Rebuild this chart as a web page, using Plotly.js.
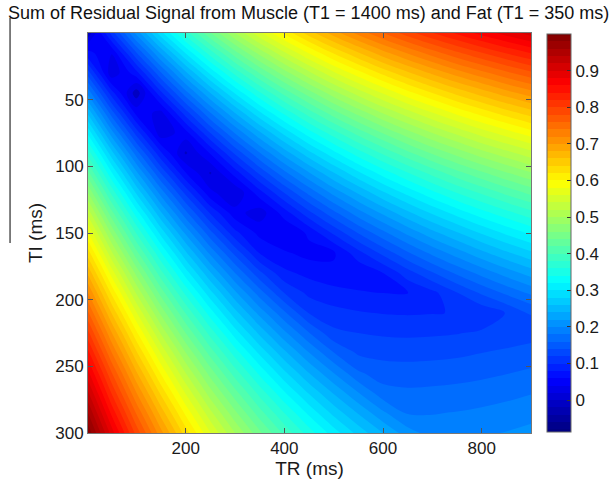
<!DOCTYPE html>
<html>
<head>
<meta charset="utf-8">
<script src="https://cdn.plot.ly/plotly-3.0.1.min.js"></script>
<style>
  html, body { margin: 0; padding: 0; background: #fff; }
  #chart { width: 616px; height: 488px; }
</style>
</head>
<body>
<div id="chart"></div>
<script>
// Repetition time TR (ms) – x grid
const trValues = [0, 50, 100, 150, 200, 250, 300, 350, 400, 450, 500, 550, 600, 650, 700, 750, 800, 850, 900];
// Inversion time TI (ms) – y grid
const tiValues = [0, 15, 30, 45, 60, 75, 90, 105, 120, 135, 150, 165, 180, 195, 210, 225, 240, 255, 270, 285, 300];
// Normalised sum of residual signal, one row per TI value (columns follow trValues)
const residual = [
  [0.000, 0.109, 0.207, 0.293, 0.370, 0.439, 0.500, 0.555, 0.605, 0.650, 0.690, 0.727, 0.760, 0.791, 0.819, 0.844, 0.868, 0.889, 0.909],
  [0.068, 0.041, 0.138, 0.224, 0.301, 0.370, 0.432, 0.487, 0.536, 0.581, 0.622, 0.658, 0.692, 0.722, 0.750, 0.776, 0.799, 0.821, 0.841],
  [0.134, 0.025, 0.072, 0.158, 0.235, 0.304, 0.366, 0.421, 0.470, 0.515, 0.556, 0.592, 0.626, 0.656, 0.684, 0.710, 0.733, 0.755, 0.775],
  [0.198, 0.089, 0.008, 0.095, 0.172, 0.240, 0.302, 0.357, 0.407, 0.451, 0.492, 0.529, 0.562, 0.593, 0.620, 0.646, 0.669, 0.691, 0.711],
  [0.260, 0.150, 0.053, 0.033, 0.110, 0.179, 0.240, 0.296, 0.345, 0.390, 0.431, 0.467, 0.501, 0.531, 0.559, 0.585, 0.608, 0.630, 0.650],
  [0.319, 0.209, 0.112, 0.026, 0.051, 0.120, 0.181, 0.236, 0.286, 0.331, 0.371, 0.408, 0.441, 0.472, 0.500, 0.525, 0.549, 0.570, 0.591],
  [0.376, 0.267, 0.170, 0.083, 0.017, 0.062, 0.124, 0.179, 0.229, 0.274, 0.314, 0.351, 0.384, 0.415, 0.443, 0.468, 0.492, 0.513, 0.533],
  [0.431, 0.322, 0.225, 0.138, 0.061, 0.018, 0.069, 0.124, 0.174, 0.218, 0.259, 0.296, 0.329, 0.359, 0.387, 0.413, 0.436, 0.458, 0.478],
  [0.485, 0.375, 0.278, 0.192, 0.115, 0.046, 0.022, 0.071, 0.120, 0.165, 0.206, 0.242, 0.276, 0.306, 0.334, 0.360, 0.383, 0.405, 0.425],
  [0.536, 0.427, 0.330, 0.243, 0.166, 0.098, 0.048, 0.029, 0.069, 0.114, 0.154, 0.191, 0.224, 0.255, 0.283, 0.308, 0.332, 0.353, 0.373],
  [0.586, 0.476, 0.379, 0.293, 0.216, 0.147, 0.086, 0.054, 0.040, 0.064, 0.104, 0.141, 0.174, 0.205, 0.233, 0.258, 0.282, 0.304, 0.324],
  [0.634, 0.524, 0.427, 0.341, 0.264, 0.195, 0.134, 0.079, 0.063, 0.053, 0.056, 0.093, 0.126, 0.157, 0.185, 0.210, 0.234, 0.256, 0.276],
  [0.680, 0.571, 0.474, 0.387, 0.310, 0.242, 0.180, 0.125, 0.085, 0.074, 0.067, 0.062, 0.080, 0.111, 0.138, 0.164, 0.187, 0.209, 0.229],
  [0.725, 0.616, 0.518, 0.432, 0.355, 0.287, 0.225, 0.170, 0.120, 0.095, 0.087, 0.083, 0.080, 0.079, 0.094, 0.119, 0.143, 0.164, 0.184],
  [0.768, 0.659, 0.562, 0.475, 0.399, 0.330, 0.268, 0.213, 0.164, 0.119, 0.107, 0.102, 0.099, 0.098, 0.099, 0.101, 0.105, 0.121, 0.141],
  [0.810, 0.701, 0.604, 0.517, 0.440, 0.372, 0.310, 0.255, 0.205, 0.161, 0.125, 0.120, 0.117, 0.116, 0.117, 0.119, 0.123, 0.127, 0.132],
  [0.851, 0.741, 0.644, 0.558, 0.481, 0.412, 0.351, 0.296, 0.246, 0.201, 0.161, 0.137, 0.134, 0.133, 0.134, 0.136, 0.140, 0.144, 0.148],
  [0.890, 0.781, 0.683, 0.597, 0.520, 0.451, 0.390, 0.335, 0.285, 0.240, 0.200, 0.163, 0.150, 0.149, 0.150, 0.152, 0.155, 0.159, 0.164],
  [0.928, 0.818, 0.721, 0.635, 0.558, 0.489, 0.428, 0.373, 0.323, 0.278, 0.238, 0.201, 0.168, 0.164, 0.165, 0.167, 0.170, 0.174, 0.179],
  [0.965, 0.855, 0.758, 0.672, 0.595, 0.526, 0.465, 0.409, 0.360, 0.315, 0.274, 0.238, 0.204, 0.178, 0.179, 0.181, 0.184, 0.188, 0.193],
  [1.000, 0.891, 0.793, 0.707, 0.630, 0.561, 0.500, 0.445, 0.395, 0.350, 0.310, 0.273, 0.240, 0.209, 0.191, 0.194, 0.197, 0.201, 0.206]
];
const xTickVals = [200, 400, 600, 800];
const yTickVals = [50, 100, 150, 200, 250, 300];
const cbTickVals = [0, 0.1, 0.2, 0.3, 0.4, 0.5, 0.6, 0.7, 0.8, 0.9];

const jet = [
  [0.000, 'rgb(0,0,131)'],
  [0.125, 'rgb(0,0,255)'],
  [0.375, 'rgb(0,255,255)'],
  [0.625, 'rgb(255,255,0)'],
  [0.875, 'rgb(255,0,0)'],
  [1.000, 'rgb(128,0,0)']
];

const FONT = 'Liberation Sans, Arial, sans-serif';

const trace = {
  type: 'contour',
  x: trValues,
  y: tiValues,
  z: residual,
  colorscale: jet,
  zmin: -0.087,
  zmax: 1.0,
  autocontour: false,
  contours: { start: -0.08, end: 1.0, size: 0.02, coloring: 'fill', showlines: false },
  line: { width: 0, smoothing: 1 },
  hoverinfo: 'x+y+z',
  colorbar: {
    x: 1.0356, xanchor: 'left', xpad: 0,
    y: 0.5, yanchor: 'middle', len: 0.995, ypad: 0,
    thickness: 24,
    outlinecolor: '#666', outlinewidth: 1,
    tickmode: 'array', tickvals: cbTickVals,
    ticks: 'inside', ticklen: 4, tickcolor: '#333',
    tickfont: { family: FONT, size: 17, color: '#1a1a1a' }
  }
};

const layout = {
  width: 616, height: 488,
  margin: { l: 88, r: 79, t: 33, b: 55 },
  paper_bgcolor: '#fff', plot_bgcolor: '#fff',
  font: { family: FONT, size: 17, color: '#1a1a1a' },
  title: {
    text: 'Sum of Residual Signal from Muscle (T1 = 1400 ms) and Fat (T1 = 350 ms)',
    font: { family: FONT, size: 18, color: '#111' },
    xref: 'container', x: 0.501, xanchor: 'center',
    yref: 'container', y: 0.974, yanchor: 'middle'
  },
  xaxis: {
    range: [2, 900],
    tickmode: 'array', tickvals: xTickVals,
    ticks: 'inside', ticklen: 5, tickcolor: '#555',
    showline: true, linecolor: '#777', linewidth: 1, mirror: 'ticks',
    showgrid: false, zeroline: false,
    tickfont: { family: FONT, size: 17, color: '#1a1a1a' },
    title: { text: 'TR (ms)', font: { family: FONT, size: 19, color: '#1a1a1a' }, standoff: 3 }
  },
  yaxis: {
    range: [300, 0],
    tickmode: 'array', tickvals: yTickVals,
    ticks: 'inside', ticklen: 5, tickcolor: '#555',
    showline: true, linecolor: '#777', linewidth: 1, mirror: 'ticks',
    showgrid: false, zeroline: false,
    tickfont: { family: FONT, size: 17, color: '#1a1a1a' },
    title: { text: 'TI (ms)', font: { family: FONT, size: 19, color: '#1a1a1a' }, standoff: 7 }
  },
  shapes: [
    { type: 'line', xref: 'paper', yref: 'paper',
      x0: -0.176, x1: -0.176, y0: 1.0375, y1: 0.475,
      line: { color: '#000', width: 1 } }
  ]
};

Plotly.newPlot('chart', [trace], layout, { displayModeBar: false, staticPlot: true });
</script>
</body>
</html>
